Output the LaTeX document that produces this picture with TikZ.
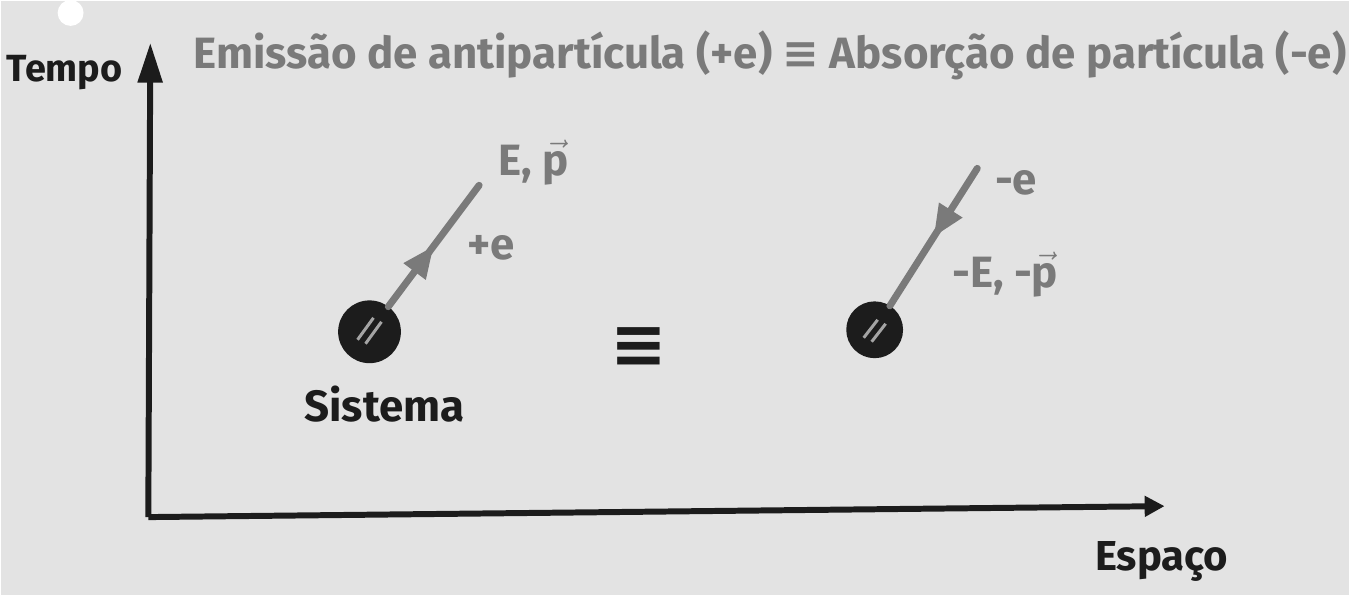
\documentclass[tikz,border=0pt]{standalone}
\usepackage{fontspec}
\setmainfont{Fira Sans}
\newfontfamily\symfont{DejaVu Sans}
\usetikzlibrary{arrows.meta, decorations.markings}
\definecolor{board}{HTML}{E3E3E3}
\definecolor{ink}{HTML}{1C1C1C}
\definecolor{chalk}{HTML}{7A7A7A}

\tikzset{
  axis/.style={ink, line width=3pt},
  worldline/.style={chalk, line width=3.5pt, line cap=round,
    postaction={decorate},
    decoration={markings, mark=at position 0.5 with {\arrow{Triangle[length=16pt,width=13pt]}}}},
  ball/.style={circle, fill=ink, draw=ink, line width=1.5pt, inner sep=0pt},
  inklabel/.style={ink, font=\fontsize{21}{24}\selectfont\bfseries},
  chalklabel/.style={chalk, font=\fontsize{22}{24}\selectfont\bfseries}
}

\begin{document}
\begin{tikzpicture}[x=0.5pt, y=-0.5pt]
        % Board
        \fill[board] (0,0) rectangle (1353,596);
        \fill[white] (70,12) circle (13);

        % Axes
        \coordinate (origin) at (148,518);
        \coordinate (ttip) at (150,42);
        \coordinate (xtip) at (1168,507);
        \draw[axis, -{Triangle[length=20pt,width=12pt]}] (origin) -- (ttip);
        \draw[axis, -{Triangle[length=10pt,width=10pt]}] (origin) -- (xtip);
        \node[inklabel, font=\fontsize{19}{22}\selectfont\bfseries] (tempo) at (64,72) {Tempo};
        \node[inklabel] (espaco) at (1165,563) {Espaço};

        % Title
        \node[chalklabel] (title) at (772,55)
            {Emissão de antipartícula (+e) {\symfont ≡} Absorção de partícula (-e)};

        % Emission
        \node[ball, minimum size=30pt] (sistema) at (370,332) {};
        \draw[white!60!ink, line width=1.5pt] (358,340) -- (374,318) (366,344) -- (382,322);
        \coordinate (eout) at (480,185);
        \draw[worldline] (sistema) -- (eout);
        \node[chalklabel] (ep) at (535,162) {E, $\vec{\textbf{p}}$};
        \node[chalklabel] (pluse) at (492,248) {+e};
        \node[inklabel, font=\fontsize{22}{24}\selectfont\bfseries] (sislabel) at (385,405) {Sistema};

        % Equivalence
        \node[ink, font=\fontsize{34}{36}\selectfont\symfont\bfseries] (equiv) at (640,348) {≡};

        % Absorption
        \node[ball, minimum size=27pt] (absorb) at (877,330) {};
        \draw[white!60!ink, line width=1.5pt] (866,338) -- (880,320) (874,342) -- (888,324);
        \coordinate (ein) at (980,168);
        \draw[worldline] (ein) -- (absorb);
        \node[chalklabel] (minuse) at (1019,183) {-e};
        \node[chalklabel] (mep) at (1008,275) {-E, -$\vec{\textbf{p}}$};
\end{tikzpicture}
\end{document}
